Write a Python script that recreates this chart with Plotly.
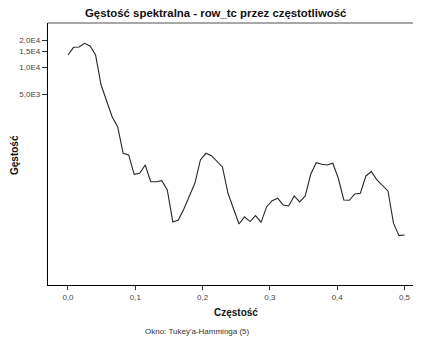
import plotly.graph_objects as go

# Spectral density estimates, frequency grid k/122
n_periods = 122
freq = [k / n_periods for k in range(62)]
density = [13680, 16620, 16750, 18400, 17170, 13680, 6390, 4367, 2860, 2220,
           1130, 1083, 663, 681, 840, 550, 550, 564, 446, 198,
           208, 275, 388, 528, 954, 1130, 1064, 923, 799, 410,
           280, 188, 225, 200, 233, 196, 290, 340, 361, 305,
           297, 383, 329, 383, 663, 891, 855, 840, 877, 600,
           346, 343, 403, 410, 636, 709, 574, 506, 435, 192,
           140, 142]

x_ticks = [0.0, 0.1, 0.2, 0.3, 0.4, 0.5]
x_tick_text = ["0,0", "0,1", "0,2", "0,3", "0,4", "0,5"]
y_ticks = [5000, 10000, 15000, 20000]
y_tick_text = ["5,0E3", "1,0E4", "1,5E4", "2,0E4"]

title_text = "Gęstość spektralna - row_tc przez częstotliwość"
x_title = "Częstość"
y_title = "Gęstość"
footnote = "Okno: Tukey'a-Hamminga (5)"

FONT = "Liberation Sans, Arial, sans-serif"
OFF = 8  # browser default body margin
W, H = 421 - OFF, 343 - OFF
L, R, T, B = 48 - OFF, 0, 23 - OFF, 58
PW, PH = W - L - R, H - T - B


def px(xp):
    return (xp - OFF - L) / PW


def py(yp):
    return (H - B - (yp - OFF)) / PH


fig = go.Figure()
fig.add_trace(go.Scatter(x=freq, y=density, mode="lines",
                         line=dict(color="#262626", width=1.1),
                         hoverinfo="skip", showlegend=False))

fig.update_layout(
    width=W, height=H,
    margin=dict(l=L, r=R, t=T, b=B, pad=0),
    paper_bgcolor="white", plot_bgcolor="white",
    font=dict(family=FONT, size=8, color="#333333"),
    xaxis=dict(range=[-0.0297, 0.5245], tickvals=x_ticks, ticktext=x_tick_text,
               showgrid=False, zeroline=False, showline=True, linecolor="black",
               linewidth=1.3, ticks="outside", ticklen=4, tickcolor="#333333",
               tickfont=dict(size=8, color="#444444", family=FONT)),
    yaxis=dict(type="log", range=[1.602, 4.4886], tickvals=y_ticks,
               ticktext=y_tick_text, showgrid=False, zeroline=False,
               showline=True, linecolor="black", linewidth=1.3,
               ticks="outside", ticklen=5, tickcolor="#333333",
               tickfont=dict(size=8, color="#444444", family=FONT)),
    shapes=[dict(type="line", xref="paper", yref="paper", x0=0, x1=1, y0=1, y1=1,
                 line=dict(color="#8a8a8a", width=1.3))],
    annotations=[
        dict(text="<b>%s</b>" % title_text, x=px(215), y=py(13), xref="paper",
             yref="paper", showarrow=False, xanchor="center", yanchor="middle",
             font=dict(size=11.4, color="#111111", family=FONT)),
        dict(text="<b>%s</b>" % x_title, x=px(235.5), y=py(312), xref="paper",
             yref="paper", showarrow=False, xanchor="center", yanchor="middle",
             font=dict(size=10, color="#111111", family=FONT)),
        dict(text="<b>%s</b>" % y_title, x=px(14), y=py(155), xref="paper",
             yref="paper", showarrow=False, xanchor="center", yanchor="middle",
             textangle=-90, font=dict(size=10, color="#111111", family=FONT)),
        dict(text=footnote, x=px(197.5), y=py(331), xref="paper",
             yref="paper", showarrow=False, xanchor="center", yanchor="middle",
             font=dict(size=8, color="#333333", family=FONT)),
    ],
)

fig.write_html("out.html")
